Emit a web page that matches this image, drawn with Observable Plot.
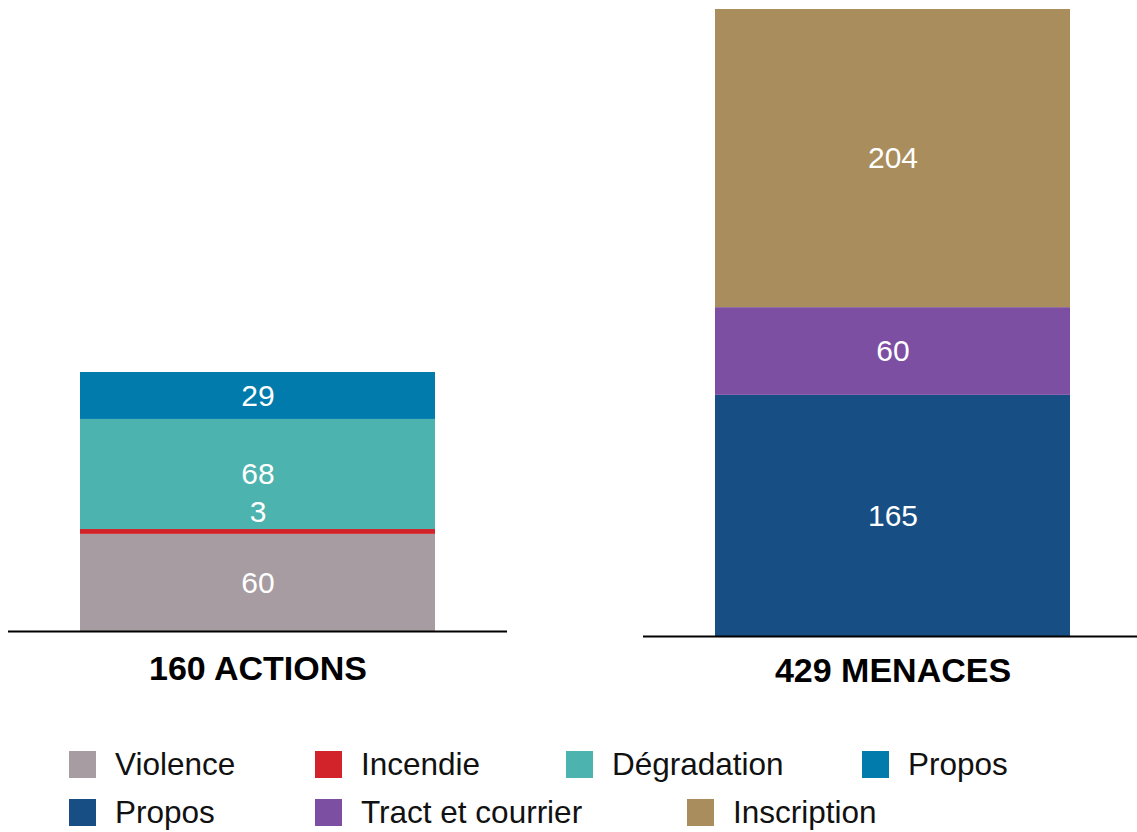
<!DOCTYPE html>
<html>
<head>
<meta charset="utf-8">
<script src="https://cdn.jsdelivr.net/npm/d3@7"></script>
<script src="https://cdn.jsdelivr.net/npm/@observablehq/plot@0.6"></script>
<style>
  body { margin: 0; background: #fff; font-family: "Liberation Sans", Arial, sans-serif; }
  #wrap { position: relative; width: 1137px; height: 832px; }
  .panel { position: absolute; top: 0; }
  .legend-item { position: absolute; display: flex; align-items: center; font-size: 31.5px; color: #111; white-space: nowrap; }
  .legend-item .sw { width: 27px; height: 27px; margin-right: 19px; }
</style>
</head>
<body>
<div id="wrap">
  <div id="left" class="panel" style="left:0px"></div>
  <div id="right" class="panel" style="left:630px"></div>
  <div id="legend"></div>
</div>
<script>
// ---- Data ----
const actionsTitle = "160 ACTIONS";
const actionsCategories = ["Violence", "Incendie", "Dégradation", "Propos"];
const actionsValues = [60, 3, 68, 29];
const actionsColors = ["#a69ca1", "#d2232a", "#4db3ae", "#007bab"];

const menacesTitle = "429 MENACES";
const menacesCategories = ["Propos", "Tract et courrier", "Inscription"];
const menacesValues = [165, 60, 204];
const menacesColors = ["#174f85", "#7c4fa3", "#a98d5c"];

function panel({title, cats, vals, colors, width, height, marginLeft, marginRight, marginTop, marginBottom, total, ruleInsetL, ruleInsetR, tickPadding}) {
  const data = cats.map((c, i) => ({group: title, key: i + ":" + c, cat: c, value: vals[i]}));
  const keys = data.map(d => d.key);
  return Plot.plot({
    width, height, marginLeft, marginRight, marginTop, marginBottom,
    style: {fontFamily: "'Liberation Sans', Arial, sans-serif", background: "transparent", overflow: "visible"},
    x: {domain: [title], padding: 0, axis: null, label: null},
    y: {domain: [0, total], axis: null},
    color: {domain: keys, range: colors},
    marks: [
      Plot.barY(data, {x: "group", y: "value", fill: "key", order: keys}),
      Plot.text(data, Plot.stackY({x: "group", y: "value", z: "key", order: keys, text: d => d.value >= 10 ? String(d.value) : "", fill: "white", fontSize: 30})),
      Plot.text(data, Plot.stackY({x: "group", y: "value", z: "key", order: keys, text: d => d.value < 10 ? String(d.value) : "", fill: "white", fontSize: 30, dy: -20})),
      Plot.ruleY([0], {stroke: "black", strokeWidth: 2, insetLeft: ruleInsetL, insetRight: ruleInsetR}),
      Plot.axisX({tickSize: 0, tickPadding, label: null, fontSize: 34, fontWeight: "bold", fill: "black"})
    ]
  });
}

document.getElementById("left").append(panel({
  title: actionsTitle, cats: actionsCategories, vals: actionsValues, colors: actionsColors,
  width: 520, height: 720, marginLeft: 80, marginRight: 85, marginTop: 372, marginBottom: 89,
  total: d3.sum(actionsValues), ruleInsetL: -72, ruleInsetR: -72, tickPadding: 24
}));

document.getElementById("right").append(panel({
  title: menacesTitle, cats: menacesCategories, vals: menacesValues, colors: menacesColors,
  width: 507, height: 720, marginLeft: 85, marginRight: 67, marginTop: 9, marginBottom: 84,
  total: d3.sum(menacesValues), ruleInsetL: -72, ruleInsetR: -67, tickPadding: 21
}));

// ---- Legend ----
const legendItems = [
  {label: "Violence", color: actionsColors[0], left: 69, top: 751},
  {label: "Incendie", color: actionsColors[1], left: 315, top: 751},
  {label: "Dégradation", color: actionsColors[2], left: 566, top: 751},
  {label: "Propos", color: actionsColors[3], left: 862, top: 751},
  {label: "Propos", color: menacesColors[0], left: 69, top: 799},
  {label: "Tract et courrier", color: menacesColors[1], left: 315, top: 799},
  {label: "Inscription", color: menacesColors[2], left: 687, top: 799}
];
const legend = document.getElementById("legend");
for (const it of legendItems) {
  const d = document.createElement("div");
  d.className = "legend-item";
  d.style.left = it.left + "px";
  d.style.top = it.top + "px";
  d.style.height = "27px";
  const sw = document.createElement("span");
  sw.className = "sw";
  sw.style.background = it.color;
  const t = document.createElement("span");
  t.textContent = it.label;
  d.append(sw, t);
  legend.append(d);
}
</script>
</body>
</html>
